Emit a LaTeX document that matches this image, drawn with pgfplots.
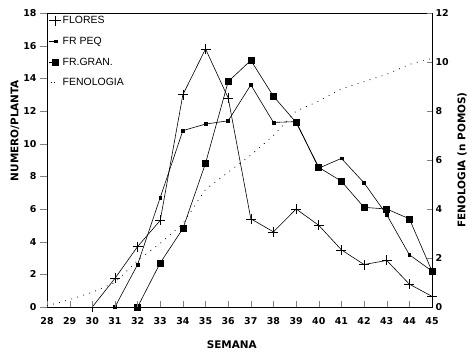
\documentclass[border=0pt]{standalone}
\usepackage{pgfplots}
\pgfplotsset{compat=1.18}
\usepackage{fontspec}
\setmainfont{Liberation Sans}
\newfontfamily\dv{DejaVu Sans}
\begin{document}
\begin{tikzpicture}
\pgfplotsset{
  tickf/.style={font=\dv\bfseries\fontsize{9.5}{10}\selectfont},
}
\begin{axis}[
  at={(0,0)}, anchor=south west,
  scale only axis, width=385bp, height=294bp,
  xmin=28, xmax=45, ymin=0, ymax=18,
  xtick={28,...,45}, ytick={0,2,...,18},
  xtick pos=bottom, ytick pos=left,
  tick align=outside, major tick length=7bp,
  xtick style={draw=none},
  tick label style={tickf},
  /pgf/number format/assume math mode=true,
  xlabel={SEMANA}, ylabel={NUMERO/PLANTA},
  label style={font=\dv\bfseries\fontsize{10.5}{11}\selectfont},
  xlabel style={at={(axis description cs:0.48,0)}, anchor=north, yshift=-30bp},
  ylabel style={at={(axis description cs:-0.083,0.6)}, anchor=center},
  axis line style={line width=0.7bp},
  legend style={at={(axis description cs:0,1)}, anchor=north west, draw=none, fill=none,
    font=\fontsize{10.5}{12}\selectfont, row sep=8bp, inner sep=1bp},
  legend cell align=left,
  legend image code/.code={\draw[#1,mark=none] (0bp,0bp) -- (7bp,0bp);
    \draw[#1,only marks] plot coordinates {(7bp,0bp)};},
  every axis plot/.append style={black, line width=0.6bp},
]
\addplot[mark=+, mark size=5bp, mark options={line width=0.6bp}] coordinates {
(30,0) (31,1.75) (32,3.7) (33,5.3) (34,13.0) (35,15.8) (36,12.8) (37,5.4) (38,4.6)
(39,6.0) (40,5.0) (41,3.5) (42,2.6) (43,2.85) (44,1.4) (45,0.65)};
\addlegendentry{FLORES}
\addplot[mark=square*, mark size=1.4bp] coordinates {
(31,0) (32,2.6) (33,6.7) (34,10.8) (35,11.2) (36,11.4) (37,13.6) (38,11.3) (39,11.35)
(40,8.5) (41,9.1) (42,7.6) (43,5.65) (44,3.2) (45,2.2)};
\addlegendentry{FR PEQ}
\addplot[mark=square*, mark size=3bp] coordinates {
(32,0) (33,2.7) (34,4.8) (35,8.8) (36,13.8) (37,15.1) (38,12.9) (39,11.3) (40,8.55)
(41,7.7) (42,6.1) (43,6.0) (44,5.4) (45,2.2)};
\addlegendentry{FR.GRAN.}
\addlegendimage{black, line width=1.1bp, dash pattern=on 1.1bp off 2.2bp, dash phase=-2bp}
\addlegendentry{FENOLOGIA}
\end{axis}
\begin{axis}[
  at={(0,0)}, anchor=south west,
  scale only axis, width=385bp, height=294bp,
  xmin=28, xmax=45, ymin=0, ymax=12,
  axis x line*=bottom, axis y line*=right,
  xtick={28,...,45}, xticklabels={},
  ytick={0,2,...,12},
  tick align=inside, major tick length=5.5bp,
  tick label style={tickf},
  /pgf/number format/assume math mode=true,
  ylabel={FENOLOGIA (n POMOS)},
  ylabel style={font=\dv\bfseries\fontsize{10.5}{11}\selectfont, at={(axis description cs:1.078,0.5)}, anchor=center},
  axis line style={line width=0.7bp, -},
]
\addplot[black, line width=0.8bp, dash pattern=on 0.8bp off 5.5bp] coordinates {
(28,0.05) (29,0.3) (30,0.6) (31,1.0) (32,1.9) (33,2.6) (34,3.4) (35,4.8) (36,5.5)
(37,6.2) (38,7.0) (39,8.0) (40,8.4) (41,8.9) (42,9.2) (43,9.5) (44,9.9) (45,10.15)};
\end{axis}
\pgfresetboundingbox
\useasboundingbox (-47bp,-46bp) rectangle (429bp,307bp);
\end{tikzpicture}
\end{document}
